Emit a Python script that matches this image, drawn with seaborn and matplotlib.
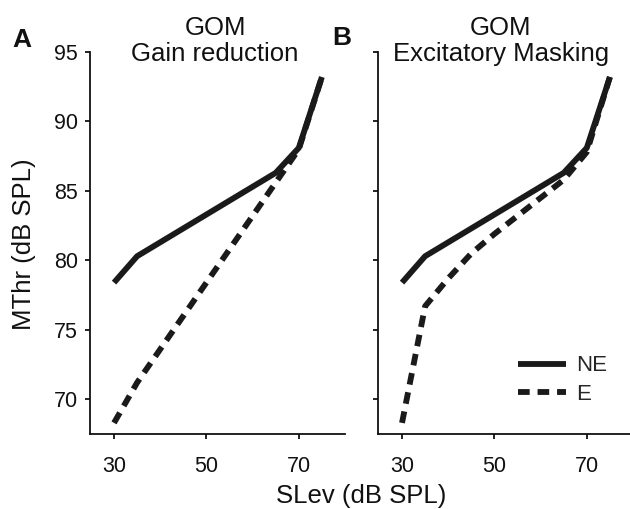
import numpy as np
import pandas as pd
import matplotlib
matplotlib.use("Agg")
import matplotlib.pyplot as plt
import seaborn as sns

# ---- data ----
slev = [30, 35, 40, 45, 50, 55, 60, 65, 70, 75]
ne_gain = [78.4, 80.3, 81.3, 82.3, 83.3, 84.3, 85.3, 86.3, 88.1, 93.2]
e_gain = [68.3, 71.2, 73.6, 76.0, 78.4, 80.8, 83.2, 85.6, 88.0, 93.2]
ne_exc = [78.4, 80.3, 81.3, 82.3, 83.3, 84.3, 85.3, 86.3, 88.1, 93.2]
e_exc = [68.3, 76.7, 78.7, 80.5, 81.9, 83.2, 84.5, 85.8, 87.8, 93.2]
panel_titles = ["GOM\nGain reduction", "GOM\nExcitatory Masking"]
panel_letters = ["A", "B"]
series_names = ["NE", "E"]
xticks = [30, 50, 70]
yticks = [70, 75, 80, 85, 90, 95]

sns.set_theme(style="ticks")
plt.rcParams["font.family"] = ["Liberation Sans", "DejaVu Sans"]

W, H = 630, 509
INK = "#111111"

def make_df(ne, e):
    return pd.DataFrame({
        "SLev": slev + slev,
        "MThr": ne + e,
        "cond": [series_names[0]] * len(slev) + [series_names[1]] * len(slev),
    })

dfs = [make_df(ne_gain, e_gain), make_df(ne_exc, e_exc)]

fig = plt.figure(figsize=(W / 100, H / 100), dpi=100)
ax1 = fig.add_axes([90 / W, 1 - 434 / H, 255 / W, 382 / H])
ax2 = fig.add_axes([378 / W, 1 - 434 / H, 255 / W, 382 / H])
axes = [ax1, ax2]
title_x = [215, 501]
letter_pos = [(12, 47), (332, 45)]

for i, (ax, df) in enumerate(zip(axes, dfs)):
    sns.lineplot(data=df, x="SLev", y="MThr", style="cond",
                 style_order=series_names,
                 dashes={"NE": "", "E": (2.0, 1.35)},
                 color="#1a1a1a", linewidth=4.2, ax=ax,
                 legend=(i == 1))
    for ln in ax.get_lines():
        ln.set_solid_capstyle("butt")
        ln.set_dash_capstyle("butt")
    ax.set_xlim(24.8, 80)
    ax.set_ylim(67.5, 95)
    ax.set_xticks(xticks)
    ax.set_yticks(yticks)
    ax.set_xlabel("")
    ax.set_ylabel("")
    for s in ["top", "right"]:
        ax.spines[s].set_visible(False)
    for s in ["left", "bottom"]:
        ax.spines[s].set_linewidth(1.3)
        ax.spines[s].set_color(INK)
    ax.tick_params(axis="both", length=3.6, width=1.3, labelsize=15.5,
                   color=INK, labelcolor=INK)
    ax.tick_params(axis="x", pad=12)
    ax.tick_params(axis="y", pad=5)
    ax.set_facecolor("none")
    fig.text(title_x[i] / W, 1 - 16 / H, panel_titles[i], fontsize=18.5,
             ha="center", va="top", color=INK, linespacing=1.08,
             multialignment="center")
    fig.text(letter_pos[i][0] / W, 1 - letter_pos[i][1] / H, panel_letters[i],
             fontsize=19, fontweight="bold", ha="left", va="baseline",
             color=INK)

ax2.set_yticklabels([])

leg = ax2.get_legend()
if leg is not None:
    leg.remove()
handles, labels = ax2.get_legend_handles_labels()
ax2.legend(handles, labels, loc="center left", frameon=False, fontsize=16,
           handlelength=2.15, handletextpad=0.45, labelspacing=0.32,
           borderpad=0.4,
           bbox_to_anchor=(498 / W, 1 - 380 / H),
           bbox_transform=fig.transFigure)

fig.text(361 / W, 1 - 503 / H, "SLev (dB SPL)", fontsize=18.5,
         ha="center", va="baseline", color=INK)
fig.text(24 / W, 1 - 244 / H, "MThr (dB SPL)", fontsize=18.5,
         ha="center", va="center", rotation=90, color=INK)

fig.savefig("out.png", dpi=100, facecolor="white")
